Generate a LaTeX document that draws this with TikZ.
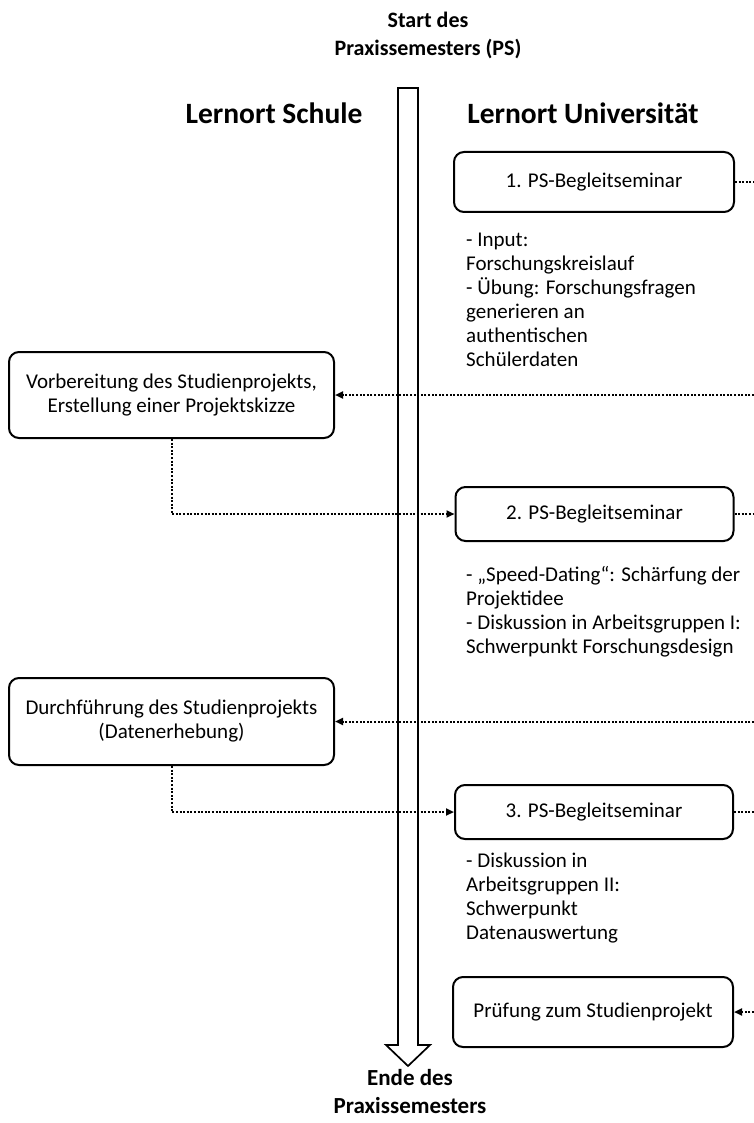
\documentclass[tikz,border=0pt]{standalone}
\usepackage{fontspec}
\setmainfont{Carlito}
\usetikzlibrary{arrows.meta}
\newcommand\bodyfs{\fontsize{21}{24}\selectfont}
\newcommand\headfs{\fontsize{29.5}{34}\selectfont\bfseries}
\newcommand\titlefs{\fontsize{22}{28}\selectfont\bfseries}
\newcommand\closingfs{\fontsize{23}{28}\selectfont\bfseries}
\begin{document}
\begin{tikzpicture}[x=1pt,y=-1pt,
  box/.style={draw, line width=2pt, rounded corners=10pt, align=center, font=\bodyfs, inner sep=0pt},
  note/.style={anchor=north west, align=left, font=\bodyfs, inner sep=0pt},
  title/.style={align=center, font=\titlefs, inner sep=0pt},
  closingtitle/.style={align=center, font=\closingfs, inner sep=0pt},
  head/.style={font=\headfs, inner sep=0pt},
  link/.style={line width=2pt, dash pattern=on 2pt off 1.6pt},
  tip/.style={-{Triangle[length=8pt,width=7pt]}},
  bigarrow/.style={draw, line width=1.7pt, line join=miter}
]
\useasboundingbox (0,0) rectangle (754,1123);

% titles
\node[title] (start) at (428,35) {Start des\\Praxissemesters (PS)};
\node[closingtitle] (ende) at (410,1092) {Ende des\\Praxissemesters};

% headings
\node[head] (hs) at (274,113) {Lernort Schule};
\node[head] (hu) at (583,113) {Lernort Universität};

% big time arrow
\draw[bigarrow] (398,88) -- (418,88) -- (418,1045) -- (430,1045) -- (408,1066)
  -- (386,1045) -- (398,1045) -- cycle;

% boxes
\node[box, minimum width=280pt, minimum height=60pt] (b1) at (594,182) {1. PS-Begleitseminar};
\node[box, minimum width=325pt, minimum height=86pt] (vb) at (171.5,395) {Vorbereitung des Studienprojekts,\\Erstellung einer Projektskizze};
\node[box, minimum width=278pt, minimum height=54pt] (b2) at (594.5,514) {2. PS-Begleitseminar};
\node[box, minimum width=325pt, minimum height=87pt] (db) at (171.5,721.5) {Durchführung des Studienprojekts\\(Datenerhebung)};
\node[box, minimum width=278pt, minimum height=54pt] (b3) at (594,812) {3. PS-Begleitseminar};
\node[box, minimum width=280pt, minimum height=70pt] (b4) at (593,1012) {Prüfung zum Studienprojekt};

% notes
\node[note] (n1) at (466,233) {- Input:\\Forschungskreislauf\\- Übung: Forschungsfragen\\generieren an\\authentischen\\Schülerdaten};
\node[note] (n2) at (466,566) {- „Speed-Dating“: Schärfung der\\Projektidee\\- Diskussion in Arbeitsgruppen I:\\Schwerpunkt Forschungsdesign};
\node[note] (n3) at (466,853) {- Diskussion in\\Arbeitsgruppen II:\\Schwerpunkt\\Datenauswertung};

% free ends on the right edge
\coordinate (r1) at (754,182);
\coordinate (r2) at (754,395);
\coordinate (r3) at (754,514);
\coordinate (r4) at (754,721.5);
\coordinate (r5) at (754,812);
\coordinate (r6) at (754,1012);

% connectors
\draw[link] (b1.east) -- (r1);
\draw[link, tip] (r2) -- (vb.east);
\draw[link, tip] (vb.south) |- (b2.west);
\draw[link] (b2.east) -- (r3);
\draw[link, tip] (r4) -- (db.east);
\draw[link, tip] (db.south) |- (b3.west);
\draw[link] (b3.east) -- (r5);
\draw[link, tip] (r6) -- (b4.east);
\end{tikzpicture}
\end{document}
